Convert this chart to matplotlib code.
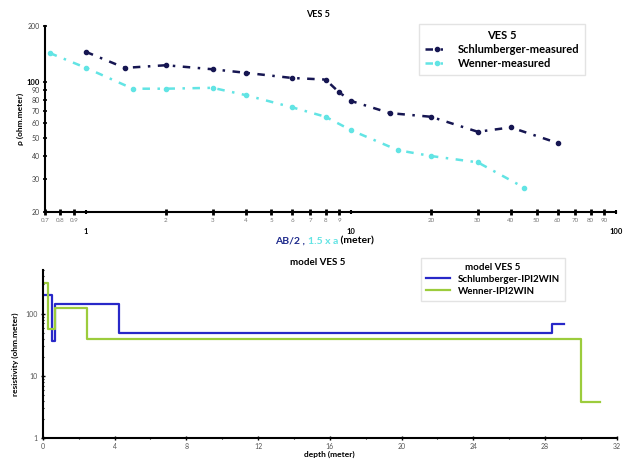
import matplotlib
matplotlib.use("Agg")
import matplotlib.pyplot as plt
from matplotlib.ticker import FixedLocator, NullFormatter

plt.rcParams['font.family'] = ['Lato', 'DejaVu Sans']

# measured apparent resistivity
schl_x = [1, 1.4, 2, 3, 4, 6, 8, 9, 10, 14, 20, 30, 40, 60]
schl_rho = [145, 119, 123, 117, 112, 105, 103, 88, 79, 68, 65, 54, 57, 47]
wen_x = [0.73, 1.0, 1.5, 2, 3, 4, 6, 8, 10, 15, 20, 30, 45]
wen_rho = [143, 119, 92, 92, 93, 85, 73, 65, 55, 43, 40, 37, 27]

# IPI2WIN layer models (depth of layer top, resistivity)
schl_depth = [0, 0.52, 0.7, 4.24, 28.4, 29.05]
schl_res = [200, 36, 143, 50, 68, 68]
wen_depth = [0, 0.3, 0.68, 2.45, 30.0, 31.05]
wen_res = [310, 56, 124, 40, 3.8, 3.8]

navy = '#161652'
cyan = '#62e4e4'
blue = '#2828c8'
green = '#9ccc3c'

fig = plt.figure(figsize=(6.3, 4.63), dpi=100)

# ---- top: measured curves
ax1 = fig.add_axes([0.0714, 0.542, 0.907, 0.402])
ax1.plot(schl_x, schl_rho, color=navy, ls=(0, (3, 3, 1, 3)), lw=1.8,
         marker='o', ms=3, label='Schlumberger-measured')
ax1.plot(wen_x, wen_rho, color=cyan, ls=(0, (3, 3, 1, 3)), lw=1.8,
         marker='o', ms=3, label='Wenner-measured')
ax1.set_xscale('log')
ax1.set_yscale('log')
ax1.set_xlim(0.7, 100)
ax1.set_ylim(20, 200)
for s in ['top', 'right']:
    ax1.spines[s].set_visible(False)
ax1.spines['left'].set_linewidth(1.5)
ax1.spines['bottom'].set_linewidth(1.5)

ax1.xaxis.set_major_locator(FixedLocator([1, 10, 100]))
ax1.set_xticklabels(['1', '10', '100'], fontsize=5.5, fontweight='bold')
minor_x = [0.7, 0.8, 0.9, 2, 3, 4, 5, 6, 7, 8, 9, 20, 30, 40, 50, 60, 70, 80, 90]
ax1.xaxis.set_minor_locator(FixedLocator(minor_x))
ax1.set_xticklabels([('%g' % v) for v in minor_x], minor=True, fontsize=4.5, color='#777777')
ax1.tick_params(axis='x', which='major', length=3, width=1.5, direction='inout', pad=10)
ax1.tick_params(axis='x', which='minor', length=4, width=2, direction='inout', pad=2)

ax1.yaxis.set_major_locator(FixedLocator([100]))
ax1.set_yticklabels(['100'], fontsize=5.5, fontweight='bold')
minor_y = [20, 30, 40, 50, 60, 70, 80, 90, 200]
ax1.yaxis.set_minor_locator(FixedLocator(minor_y))
ax1.set_yticklabels([str(v) for v in minor_y], minor=True, fontsize=5, color='#444444')
ax1.tick_params(axis='y', which='both', length=3, width=1.2, direction='inout', pad=2)

ax1.set_ylabel('\u03c1 (ohm.meter)', fontsize=6, fontweight='bold', labelpad=2)
fig.text(0.505, 0.968, 'VES 5', fontsize=6.5, fontweight='bold', ha='center', va='center')
leg1 = ax1.legend(title='VES 5', loc='upper right', bbox_to_anchor=(0.955, 1.04),
                  prop={'size': 8, 'weight': 'bold'}, handlelength=2.2,
                  frameon=True, fancybox=False, edgecolor='#dddddd',
                  borderpad=0.5, labelspacing=0.3)
leg1.get_title().set_fontweight('bold')
leg1.get_title().set_fontsize(8)

# multi-coloured x label
t1 = fig.text(0.437, 0.479, 'AB/2 , ', fontsize=7.5, fontweight='bold', color='#1e2a8c', va='center')
t2 = fig.text(0, 0, '1.5 x a', fontsize=7.5, fontweight='bold', color=cyan, va='center')
t3 = fig.text(0, 0, ' (meter)', fontsize=7.5, fontweight='bold', color='black', va='center')
fig.canvas.draw()
r = fig.canvas.get_renderer()
bb = t1.get_window_extent(r)
t2.set_position((bb.x1 / fig.bbox.width, 0.479))
bb = t2.get_window_extent(r)
t3.set_position((bb.x1 / fig.bbox.width, 0.479))

# ---- bottom: inverted models
ax2 = fig.add_axes([0.068, 0.054, 0.911, 0.363])
ax2.step(schl_depth, schl_res, where='post', color=blue, lw=1.6, label='Schlumberger-IPI2WIN')
ax2.step(wen_depth, wen_res, where='post', color=green, lw=1.6, label='Wenner-IPI2WIN')
ax2.set_yscale('log')
ax2.set_xlim(0, 32)
ax2.set_ylim(1, 510)
for s in ['top', 'right']:
    ax2.spines[s].set_visible(False)
ax2.spines['left'].set_linewidth(1.5)
ax2.spines['bottom'].set_linewidth(1.5)
ax2.set_xticks(range(0, 33, 4))
ax2.set_xticks(range(2, 33, 4), minor=True)
ax2.set_yticks([1, 10, 100])
ax2.set_yticklabels(['1', '10', '100'])
ax2.yaxis.set_minor_formatter(NullFormatter())
ax2.tick_params(axis='both', which='major', labelsize=5, labelcolor='#555555',
                length=3, width=1, direction='inout', pad=2)
ax2.tick_params(axis='both', which='minor', length=2, width=0.8, direction='inout')
ax2.set_xlabel('depth (meter)', fontsize=6, fontweight='bold', labelpad=1)
ax2.set_ylabel('resistivity (ohm.meter)', fontsize=6, fontweight='bold', labelpad=5)
fig.text(0.505, 0.434, 'model VES 5', fontsize=7, fontweight='bold', ha='center', va='center')
leg2 = ax2.legend(title='model VES 5', loc='upper right', bbox_to_anchor=(0.918, 1.1),
                  prop={'size': 7, 'weight': 'bold'}, handlelength=2.5,
                  frameon=True, fancybox=False, edgecolor='#dddddd',
                  borderpad=0.5, labelspacing=0.3)
leg2.get_title().set_fontweight('bold')
leg2.get_title().set_fontsize(7)

fig.savefig('out.png', dpi=100)
